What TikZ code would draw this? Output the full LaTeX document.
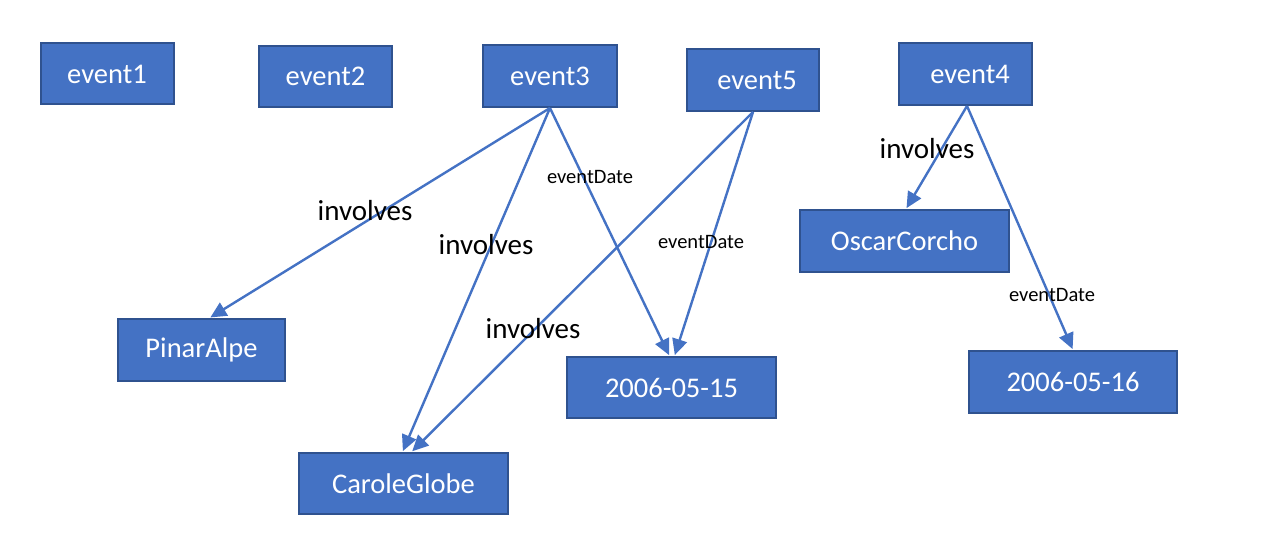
\documentclass[tikz,border=0pt]{standalone}
\usepackage{fontspec}
\setmainfont{Carlito}
\usetikzlibrary{arrows.meta}
\definecolor{boxfill}{HTML}{4472C4}
\definecolor{boxline}{HTML}{2F528F}
\definecolor{edgecol}{HTML}{4472C4}
\tikzset{
  ent/.style={draw=boxline, fill=boxfill, line width=2pt, text=white,
    inner sep=0pt, font=\fontsize{28.5}{34}\selectfont},
  evbox/.style={ent, minimum width=133pt, minimum height=61pt},
  widebox/.style={ent, minimum width=208pt, minimum height=61pt},
  rel/.style={draw=edgecol, line width=2.4pt,
    -{Triangle[length=16pt,width=15pt]}, shorten >=1pt},
  biglabel/.style={text=black, inner sep=0pt, font=\fontsize{29}{34}\selectfont},
  smalllabel/.style={text=black, inner sep=0pt, font=\fontsize{20.5}{24}\selectfont}
}
\begin{document}
\begin{tikzpicture}[x=1pt,y=-1pt]
\useasboundingbox (0,0) rectangle (1263,556);
% boxes
\node[evbox] (e1) at (107,74) {event1};
\node[evbox] (e2) at (325.5,76.5) {event2};
\node[evbox, minimum width=134pt, minimum height=62pt] (e3) at (550,76) {event3};
\node[evbox, minimum width=132pt, minimum height=62pt] (e5) at (753,80) {\hspace*{8pt}event5};
\node[evbox, minimum height=62pt] (e4) at (965.5,74) {\hspace*{9pt}event4};
\node[ent, minimum width=167pt, minimum height=62pt] (pa) at (201.5,350) {PinarAlpe};
\node[widebox, minimum width=209pt] (d15) at (671.5,387.5) {2006-05-15};
\node[widebox, minimum width=209pt] (cg) at (403.5,483.5) {CaroleGlobe};
\node[widebox, minimum width=209pt, minimum height=62pt] (oc) at (904.5,241) {OscarCorcho};
\node[widebox, minimum height=62pt] (d16) at (1073,382) {2006-05-16};
% edges
\draw[rel] (e3.south) -- ([xshift=8pt]pa.north);
\draw[rel] (e3.south) -- ([xshift=-1pt]cg.north);
\draw[rel] (e3.south) -- ([xshift=-2pt]d15.north);
\draw[rel] (e5.south) -- ([xshift=8pt]cg.north);
\draw[rel] (e5.south) -- ([xshift=3pt]d15.north);
\draw[rel] ([xshift=1.5pt]e4.south) -- ([xshift=1.5pt]oc.north);
\draw[rel] ([xshift=1.5pt]e4.south) -- (d16.north);
% labels
\node[biglabel] (l1) at (365,211) {involves};
\node[biglabel] (l2) at (486,245) {involves};
\node[biglabel] (l3) at (533,329) {involves};
\node[biglabel] (l4) at (927,149) {involves};
\node[smalllabel] (l5) at (590,177) {eventDate};
\node[smalllabel] (l6) at (701,242) {eventDate};
\node[smalllabel] (l7) at (1052,295) {eventDate};
\end{tikzpicture}
\end{document}
